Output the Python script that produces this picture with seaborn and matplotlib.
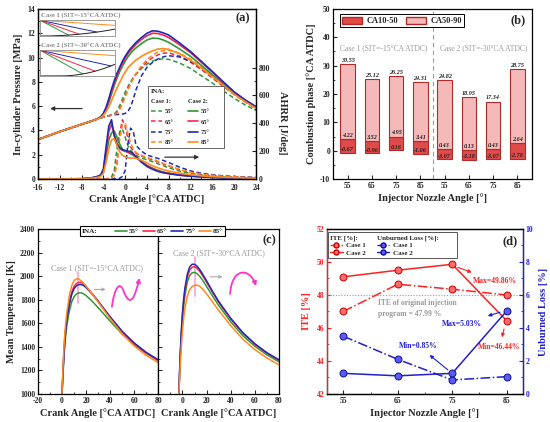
import numpy as np
import seaborn as sns
import matplotlib.pyplot as plt
from matplotlib.lines import Line2D
from matplotlib.patches import Patch, FancyArrowPatch
from matplotlib.path import Path
from matplotlib.ticker import MultipleLocator, FixedLocator

# --- dados ---
ina = [55, 65, 75, 85]
ina_txt = ['55°', '65°', '75°', '85°']
cores = ['#2f9a35', '#ff2345', '#1f2ab5', '#ff8a1e']

# (a) pressão [MPa] e AHRR [J/deg]
ca_a = [-16, -12, -8, -6, -5, -4.5, -4, -3.5, -3, -2.5, -2, -1.5, -1, -0.5, 0, 0.5, 1, 1.5, 2, 3,
        4, 5, 6, 7, 8, 10, 12, 14, 16, 18, 20, 22, 24]
p1_55 = [3.25, 3.9, 4.5, 4.8, 4.95, 5.03, 5.1, 5.16, 5.21, 5.26, 5.35, 5.6, 6.05, 6.6, 7.15, 7.6, 8.0, 8.35, 8.65, 9.1,
         9.45, 9.7, 9.85, 9.9, 9.85, 9.55, 9.1, 8.5, 7.9, 7.25, 6.65, 6.1, 5.65]
p1_65 = [3.25, 3.9, 4.5, 4.8, 4.95, 5.03, 5.1, 5.16, 5.21, 5.26, 5.3, 5.45, 5.8, 6.3, 6.85, 7.4, 7.9, 8.3, 8.65, 9.2,
         9.65, 9.98, 10.22, 10.36, 10.38, 10.12, 9.62, 9.0, 8.32, 7.62, 6.95, 6.35, 5.8]
p1_75 = [3.25, 3.9, 4.5, 4.8, 4.95, 5.03, 5.1, 5.16, 5.21, 5.26, 5.29, 5.31, 5.33, 5.35, 5.4, 5.55, 5.95, 6.6, 7.35, 8.5,
         9.2, 9.6, 9.88, 10.06, 10.15, 10.05, 9.68, 9.1, 8.45, 7.75, 7.07, 6.42, 5.82]
p1_85 = [3.25, 3.9, 4.5, 4.8, 4.95, 5.03, 5.1, 5.16, 5.21, 5.26, 5.3, 5.42, 5.75, 6.2, 6.75, 7.3, 7.82, 8.28, 8.7, 9.32,
         9.83, 10.2, 10.45, 10.58, 10.6, 10.36, 9.87, 9.22, 8.52, 7.82, 7.12, 6.46, 5.86]
p2_55 = [3.25, 3.9, 4.5, 4.8, 4.97, 5.08, 5.3, 5.7, 6.3, 7.0, 7.7, 8.3, 8.85, 9.3, 9.7, 10.05, 10.35, 10.6, 10.8, 11.15,
         11.45, 11.6, 11.58, 11.45, 11.25, 10.7, 10.1, 9.35, 8.6, 7.85, 7.05, 6.42, 5.85]
p2_65 = [3.25, 3.9, 4.5, 4.8, 4.98, 5.1, 5.35, 5.8, 6.45, 7.2, 7.9, 8.5, 9.05, 9.5, 9.95, 10.3, 10.6, 10.85, 11.1, 11.5,
         11.8, 12.0, 11.98, 11.85, 11.65, 11.05, 10.4, 9.6, 8.8, 7.98, 7.15, 6.5, 5.92]
p2_75 = [3.25, 3.9, 4.5, 4.8, 4.98, 5.12, 5.4, 5.9, 6.6, 7.4, 8.1, 8.7, 9.2, 9.7, 10.1, 10.45, 10.75, 11.0, 11.25, 11.65,
         12.0, 12.2, 12.17, 12.03, 11.85, 11.2, 10.5, 9.68, 8.85, 8.0, 7.17, 6.52, 5.96]
p2_85 = [3.25, 3.9, 4.5, 4.8, 4.96, 5.06, 5.25, 5.55, 5.95, 6.45, 7.0, 7.5, 7.95, 8.4, 8.8, 9.15, 9.4, 9.6, 9.8, 10.1,
         10.35, 10.55, 10.7, 10.74, 10.67, 10.32, 9.78, 9.12, 8.42, 7.72, 6.98, 6.38, 5.82]
h1_55 = [0, 0, 0, 0, 0, 0, 0, 2, 5, 15, 60, 220, 340, 360, 300, 240, 205, 185, 170, 150,
         138, 125, 110, 95, 80, 56, 40, 29, 22, 17, 13, 10, 8]
h1_65 = [0, 0, 0, 0, 0, 0, 0, 1, 3, 10, 30, 120, 330, 425, 380, 290, 230, 200, 185, 165,
         150, 138, 124, 108, 93, 66, 47, 34, 25, 19, 15, 12, 9]
h1_75 = [0, 0, 0, 0, 0, 0, 0, 0, 0, 0, 1, 3, 5, 20, 60, 250, 365, 340, 240, 200,
         172, 160, 148, 133, 118, 85, 58, 41, 30, 23, 18, 14, 11]
h1_85 = [0, 0, 0, 0, 0, 0, 0, 1, 3, 8, 25, 100, 280, 390, 400, 330, 260, 215, 190, 170,
         155, 143, 128, 112, 97, 70, 49, 35, 26, 20, 16, 12, 9]
h2_55 = [0, 0, 2, 8, 15, 25, 50, 160, 280, 330, 345, 300, 250, 215, 200, 190, 180, 170, 155, 125,
         98, 78, 62, 50, 42, 30, 22, 17, 13, 10, 8, 6, 5]
h2_65 = [0, 0, 2, 9, 18, 28, 60, 200, 340, 395, 320, 255, 220, 205, 200, 195, 190, 178, 160, 125,
         95, 75, 58, 47, 40, 29, 21, 16, 12, 9, 7, 5, 4]
h2_75 = [0, 0, 2, 10, 20, 30, 70, 230, 380, 425, 310, 250, 225, 210, 205, 200, 195, 180, 160, 120,
         90, 70, 55, 45, 38, 27, 20, 15, 11, 8, 6, 5, 4]
h2_85 = [0, 0, 2, 7, 12, 20, 40, 120, 220, 280, 290, 240, 195, 170, 160, 152, 150, 150, 148, 135,
         115, 95, 80, 67, 57, 42, 31, 23, 17, 13, 10, 8, 6]

# (b) fases de combustão [°CA ATDC]
angulos_b = ['55', '65', '75', '85', '55', '65', '75', '85']
ca10 = [-0.67, -0.96, 0.16, -1.06, -3.07, -3.18, -3.07, -2.78]
ca50 = [4.22, 3.52, 4.95, 3.41, 0.43, 0.13, 0.43, 2.64]
ca90 = [30.55, 25.12, 26.25, 24.31, 24.82, 18.95, 17.34, 28.75]

# (c) temperatura média [K]
ca_c1 = [-1, 0, 1, 2, 3, 4, 6, 8, 10, 12, 14, 16, 18, 20, 25, 30, 40, 50, 60, 70, 80]
t1_55 = [850, 1000, 1200, 1370, 1490, 1580, 1700, 1780, 1825, 1848, 1858, 1858, 1850, 1835, 1788, 1733, 1618, 1508, 1418, 1346, 1287]
t1_65 = [850, 1000, 1235, 1425, 1555, 1645, 1775, 1862, 1913, 1938, 1947, 1945, 1932, 1913, 1853, 1788, 1652, 1527, 1427, 1347, 1281]
t1_75 = [850, 1000, 1220, 1400, 1530, 1622, 1752, 1842, 1893, 1918, 1928, 1928, 1920, 1903, 1849, 1786, 1655, 1532, 1433, 1353, 1290]
t1_85 = [850, 1010, 1270, 1465, 1595, 1692, 1830, 1917, 1962, 1978, 1975, 1960, 1940, 1915, 1850, 1780, 1640, 1510, 1408, 1328, 1265]
ca_c2 = [-5, -3, -2, -1, 0, 1, 2, 4, 6, 8, 10, 12, 14, 16, 18, 20, 25, 30, 40, 50, 60, 70, 80]
t2_55 = [700, 1000, 1260, 1470, 1620, 1740, 1830, 1950, 2005, 2028, 2032, 2022, 2002, 1975, 1945, 1912, 1830, 1752, 1612, 1495, 1405, 1332, 1272]
t2_65 = [700, 1000, 1280, 1500, 1660, 1780, 1870, 1990, 2050, 2075, 2080, 2068, 2045, 2015, 1982, 1948, 1860, 1778, 1636, 1516, 1421, 1346, 1285]
t2_75 = [700, 1000, 1300, 1525, 1685, 1805, 1895, 2015, 2078, 2101, 2100, 2085, 2060, 2030, 1995, 1960, 1870, 1786, 1642, 1521, 1426, 1350, 1290]
t2_85 = [700, 980, 1200, 1390, 1530, 1640, 1720, 1830, 1885, 1912, 1922, 1924, 1915, 1898, 1875, 1850, 1780, 1710, 1580, 1466, 1376, 1306, 1246]

# (d) ITE e perdas por não queimados [%]
ite_c1 = [47.0, 48.65, 48.35, 48.0]
ite_c2 = [49.1, 49.5, 49.86, 46.44]
ul_c1 = [3.5, 2.1, 0.85, 1.05]
ul_c2 = [1.25, 1.1, 1.25, 5.03]
ite_original = 47.99

# --- estilo ---
sns.set_theme(style='ticks')
plt.rcParams['font.family'] = ['Liberation Serif', 'DejaVu Serif']
plt.rcParams.update({
    'font.weight': 'bold', 'axes.labelweight': 'bold', 'font.size': 6,
    'axes.labelsize': 7.5, 'xtick.labelsize': 5.5, 'ytick.labelsize': 5.5,
    'xtick.direction': 'in', 'ytick.direction': 'in',
    'xtick.major.size': 3, 'ytick.major.size': 3, 'xtick.minor.size': 1.6, 'ytick.minor.size': 1.6,
    'xtick.major.width': 0.8, 'ytick.major.width': 0.8, 'xtick.minor.width': 0.6, 'ytick.minor.width': 0.6,
    'xtick.major.pad': 2.5, 'ytick.major.pad': 2,
    'axes.linewidth': 0.9, 'axes.edgecolor': 'black', 'axes.unicode_minus': False,
})

fig = plt.figure(figsize=(5.5, 4.22), dpi=100)
ax_a = fig.add_axes([0.069, 0.5758, 0.3964, 0.4029])
ax_b = fig.add_axes([0.6055, 0.5758, 0.3618, 0.4029])
ax_c1 = fig.add_axes([0.069, 0.0664, 0.2187, 0.391])
ax_c2 = fig.add_axes([0.2878, 0.0664, 0.2195, 0.391])
ax_d = fig.add_axes([0.5945, 0.0664, 0.3564, 0.391])

tracejado = (0, (3, 1.8))


def puxa_esquerda(leg, indices):
    # cabeçalhos da legenda sem símbolo: encosta o texto à esquerda
    fs = leg.prop.get_size_in_points()
    desloc = (leg.handlelength + leg.handletextpad) * fs * fig.dpi / 72
    textos = leg.get_texts()
    for i in indices:
        textos[i].set_x(-desloc)


# ===================== (a) =====================
ax_a2 = ax_a.twinx()
pressoes1 = [p1_55, p1_65, p1_75, p1_85]
pressoes2 = [p2_55, p2_65, p2_75, p2_85]
hrr1 = [h1_55, h1_65, h1_75, h1_85]
hrr2 = [h2_55, h2_65, h2_75, h2_85]
for p, h, cor in zip(pressoes1, hrr1, cores):
    sns.lineplot(x=ca_a, y=p, ax=ax_a, color=cor, linestyle=tracejado, lw=1.1, errorbar=None)
    sns.lineplot(x=ca_a, y=h, ax=ax_a2, color=cor, linestyle=tracejado, lw=1.1, errorbar=None)
for p, h, cor in zip(pressoes2, hrr2, cores):
    sns.lineplot(x=ca_a, y=p, ax=ax_a, color=cor, lw=1.2, errorbar=None)
    sns.lineplot(x=ca_a, y=h, ax=ax_a2, color=cor, lw=1.2, errorbar=None)

ax_a.set_xlim(-16, 24)
ax_a.set_ylim(0, 14)
ax_a.xaxis.set_major_locator(MultipleLocator(4))
ax_a.xaxis.set_minor_locator(MultipleLocator(2))
ax_a.yaxis.set_major_locator(MultipleLocator(2))
ax_a.yaxis.set_minor_locator(MultipleLocator(1))
ax_a.tick_params(axis='x', pad=3.5)
ax_a2.set_ylim(0, 1220)
ax_a2.yaxis.set_major_locator(FixedLocator([0, 200, 400, 600, 800]))
ax_a2.yaxis.set_minor_locator(FixedLocator([100, 300, 500, 700]))
ax_a.set_xlabel('Crank Angle [°CA ATDC]', labelpad=1.5)
ax_a.set_ylabel('In-cylinder Pressure [MPa]', labelpad=3)
ax_a2.set_ylabel('AHRR [J/deg]', rotation=270, va='bottom')
ax_a2.yaxis.set_label_coords(1.1, 0.33)

ax_a.annotate('', xy=(-14.3, 5.8), xytext=(-7.4, 5.8),
              arrowprops=dict(arrowstyle='-|>', color='#333333', lw=0.9, mutation_scale=6))
ax_a.annotate('', xy=(14.1, 1.8), xytext=(6.75, 1.8),
              arrowprops=dict(arrowstyle='-|>', color='#333333', lw=0.9, mutation_scale=6))
ax_a.text(0.939, 0.945, '(a)', transform=ax_a.transAxes, fontsize=9, ha='center', va='center')


# esquemas do bico injetor
def desenha_bico(ax_in, w, h, x0, c):
    xs = np.linspace(0, w, 400)
    pistao = -h + c * np.clip(xs - x0, 0, None) ** 2
    for a, cor in zip(ina, cores):
        inc = np.tan(np.radians((90 - a) * 0.82))
        yl = -inc * xs
        dentro = yl >= pistao
        ax_in.plot(xs[dentro], yl[dentro], color=cor, lw=0.7)
    ax_in.plot(xs, pistao, color='#222222', lw=0.7)
    ax_in.set_xlim(0, w)
    ax_in.set_ylim(-h, 0.3)
    ax_in.set_xticks([])
    ax_in.set_yticks([])
    ax_in.patch.set_alpha(0)
    for s in ax_in.spines.values():
        s.set_color('#8c8c8c')
        s.set_linewidth(0.6)


bico1 = ax_a.inset_axes([0.01, 0.841, 0.344, 0.094])
desenha_bico(bico1, 77, 17, 1.6, 0.00132)
bico2 = ax_a.inset_axes([0.01, 0.606, 0.344, 0.153])
desenha_bico(bico2, 77, 26, 20.3, 0.0037)
ax_a.text(0.012, 0.958, 'Case 1 (SIT=-15°CA ATDC)', transform=ax_a.transAxes, fontsize=4.8,
          color='#8a8a8a', ha='left', va='center')
ax_a.text(0.012, 0.782, 'Case 2 (SIT=-30°CA ATDC)', transform=ax_a.transAxes, fontsize=4.8,
          color='#8a8a8a', ha='left', va='center')

vazio = Line2D([], [], color='none')
h_a = [vazio] + [Line2D([], [], color=c, lw=1.1, linestyle=tracejado) for c in cores] + \
      [vazio] + [Line2D([], [], color=c, lw=1.2) for c in cores]
l_a = ['Case 1:'] + ina_txt + ['Case 2:'] + ina_txt
leg_a = ax_a2.legend(h_a, l_a, ncol=2, title='INA:', alignment='left', loc='upper left',
                     bbox_to_anchor=(0.505, 0.547), borderaxespad=0, fontsize=4.6, title_fontsize=4.8,
                     handlelength=1.7, handletextpad=0.4, labelspacing=0.75, columnspacing=0.5,
                     frameon=True, fancybox=False, edgecolor='#666666', framealpha=1, borderpad=0.45)
leg_a.get_frame().set_linewidth(0.7)
leg_a.get_title().set_fontweight('bold')
puxa_esquerda(leg_a, [0, 5])

# ===================== (b) =====================
escuro = '#e04a4a'
claro = '#f5b9b9'
borda = '#b02a2a'
xb = np.arange(len(ca90))
base = np.array(ca10)
meio = np.array(ca50)
topo = np.array(ca90)
ax_b.bar(xb, meio - base, bottom=base, width=0.6, color=escuro, edgecolor=borda, lw=0.8, zorder=2)
ax_b.bar(xb, topo - meio, bottom=meio, width=0.6, color=claro, edgecolor=borda, lw=0.8, zorder=2)
for i in xb:
    for v, dy in [(ca90[i], 1.3), (ca50[i], 1.3), (ca10[i], 1.0)]:
        ax_b.text(i, v + dy, f'{v:.2f}', ha='center', va='center', fontsize=4.4,
                  style='italic', weight='bold', color='#222222', zorder=3)
ax_b.axvline(3.5, color='#9a9a9a', lw=0.8, ls=(0, (4, 3)), zorder=1)
ax_b.set_xlim(-0.6, 7.6)
ax_b.set_ylim(-10, 50)
ax_b.set_xticks(xb)
ax_b.set_xticklabels(angulos_b)
ax_b.yaxis.set_major_locator(MultipleLocator(10))
ax_b.yaxis.set_minor_locator(MultipleLocator(5))
ax_b.set_xlabel('Injector Nozzle Angle [°]', labelpad=2)
ax_b.set_ylabel('Combustion phase [°CA ATDC]', labelpad=3)
ax_b.text(1.47, 36.1, 'Case 1 (SIT=-15°CA ATDC)', fontsize=5.5, color='#9a9a9a', ha='center',
          va='center', weight='normal')
ax_b.text(5.59, 36.1, 'Case 2 (SIT=-30°CA ATDC)', fontsize=5.5, color='#9a9a9a', ha='center',
          va='center', weight='normal')
ax_b.text(0.931, 0.931, '(b)', transform=ax_b.transAxes, fontsize=9, ha='center', va='center')
leg_b = ax_b.legend([Patch(facecolor=escuro, edgecolor=borda), Patch(facecolor=claro, edgecolor=borda)],
                    ['CA10-50', 'CA50-90'], ncol=2, loc='upper left', bbox_to_anchor=(0.035, 0.968),
                    borderaxespad=0, fontsize=6, handlelength=2.4, handleheight=1.0, columnspacing=1.0,
                    handletextpad=0.5, frameon=True, fancybox=False, edgecolor='black', framealpha=1,
                    borderpad=0.25)
leg_b.get_frame().set_linewidth(0.7)

# ===================== (c) =====================
temps1 = [t1_55, t1_65, t1_75, t1_85]
temps2 = [t2_55, t2_65, t2_75, t2_85]
for t, cor in zip(temps1, cores):
    sns.lineplot(x=ca_c1, y=t, ax=ax_c1, color=cor, lw=1.1, errorbar=None)
for t, cor in zip(temps2, cores):
    sns.lineplot(x=ca_c2, y=t, ax=ax_c2, color=cor, lw=1.1, errorbar=None)

for ax in (ax_c1, ax_c2):
    ax.set_xlim(-20, 80)
    ax.set_ylim(1000, 2400)
    ax.xaxis.set_minor_locator(MultipleLocator(10))
    ax.yaxis.set_major_locator(MultipleLocator(200))
    ax.yaxis.set_minor_locator(MultipleLocator(100))
    ax.set_xlabel('Crank Angle [°CA ATDC]', labelpad=2)
ax_c1.set_xticks([-20, 0, 20, 40, 60, 80])
ax_c2.set_xticks([0, 20, 40, 60, 80])
ax_c2.tick_params(axis='y', labelleft=False)
ax_c1.set_ylabel('Mean Temperature [K]', labelpad=3)

# linha rosa na posição dos picos
for ax, ca, temps in [(ax_c1, ca_c1, temps1), (ax_c2, ca_c2, temps2)]:
    picos_x = [ca[int(np.argmax(t))] for t in temps]
    picos_y = [max(t) for t in temps]
    ax.plot([np.mean(picos_x)] * 2, [min(picos_y) - 90, max(picos_y) + 60], color='#f7a6dc', lw=1.4,
            zorder=1, alpha=0.9)

ax_c1.text(28.9, 2065, 'Case 1 (SIT=-15°CA ATDC)', fontsize=5.8, color='#9a9a9a', ha='center',
           va='center', weight='normal')
ax_c2.text(30.4, 2192, 'Case 2 (SIT=-30°CA ATDC)', fontsize=5.8, color='#9a9a9a', ha='center',
           va='center', weight='normal')
ax_c1.annotate('', xy=(38.6, 1887), xytext=(24.7, 1887),
               arrowprops=dict(arrowstyle='->', color='#aaaaaa', lw=0.8, mutation_scale=5))
ax_c2.annotate('', xy=(35.6, 1994), xytext=(20.6, 1994),
               arrowprops=dict(arrowstyle='->', color='#aaaaaa', lw=0.8, mutation_scale=5))

rosa = '#ff33cc'
caminho1 = Path([(41.5, 1740), (43.5, 1900), (48, 1960), (51, 1880), (53, 1820), (56, 1770), (59, 1815),
                 (61, 1850), (63, 1920), (64.5, 1985)],
                [Path.MOVETO] + [Path.CURVE4] * 9)
ax_c1.add_patch(FancyArrowPatch(path=caminho1, arrowstyle='-|>', mutation_scale=6, color=rosa, lw=1.3))
caminho2 = Path([(39.5, 1850), (41, 2080), (56, 2070), (61, 1915)],
                [Path.MOVETO, Path.CURVE4, Path.CURVE4, Path.CURVE4])
ax_c2.add_patch(FancyArrowPatch(path=caminho2, arrowstyle='-|>', mutation_scale=6, color=rosa, lw=1.3))
ax_c2.text(0.92, 0.933, '(c)', transform=ax_c2.transAxes, fontsize=9, ha='center', va='center')

h_c = [vazio] + [Line2D([], [], color=c, lw=1.2) for c in cores]
leg_c = fig.legend(h_c, ['INA:'] + ina_txt, ncol=5, loc='center', bbox_to_anchor=(0.277, 0.4526),
                   fontsize=5.2, handlelength=1.6, handletextpad=0.3, columnspacing=0.6, borderpad=0.25,
                   frameon=True, fancybox=False, edgecolor='black', framealpha=1)
leg_c.get_frame().set_linewidth(0.8)
puxa_esquerda(leg_c, [0])

# ===================== (d) =====================
vermelho = '#ff2020'
azul = '#2020d0'
ax_d2 = ax_d.twinx()
estilo_ponto = dict(marker='o', markersize=5, markeredgewidth=0.7, errorbar=None)
sns.lineplot(x=ina, y=ite_c1, ax=ax_d, color=vermelho, linestyle='-.', lw=1.1,
             markerfacecolor='#ff6a6a', markeredgecolor='#c80000', **estilo_ponto)
sns.lineplot(x=ina, y=ite_c2, ax=ax_d, color=vermelho, lw=1.1,
             markerfacecolor='#ff6a6a', markeredgecolor='#c80000', **estilo_ponto)
sns.lineplot(x=ina, y=ul_c1, ax=ax_d2, color=azul, linestyle='-.', lw=1.1,
             markerfacecolor='#5a5aff', markeredgecolor='#10108a', **estilo_ponto)
sns.lineplot(x=ina, y=ul_c2, ax=ax_d2, color=azul, lw=1.1,
             markerfacecolor='#5a5aff', markeredgecolor='#10108a', **estilo_ponto)
ax_d.axhline(ite_original, color='#9a9a9a', lw=0.8, ls=(0, (1, 1.5)), zorder=1)

ax_d.set_xlim(52, 88)
ax_d.set_xticks(ina)
ax_d.xaxis.set_minor_locator(MultipleLocator(5))
ax_d.set_ylim(42, 52)
ax_d.yaxis.set_major_locator(MultipleLocator(2))
ax_d.yaxis.set_minor_locator(MultipleLocator(1))
ax_d2.set_ylim(0, 10)
ax_d2.yaxis.set_major_locator(MultipleLocator(2))
ax_d2.yaxis.set_minor_locator(MultipleLocator(1))
ax_d.set_xlabel('Injector Nozzle Angle [°]', labelpad=2)
ax_d.set_ylabel('ITE [%]', color=vermelho, labelpad=4)
ax_d2.set_ylabel('Unburned Loss [%]', color=azul, rotation=90, labelpad=4)
ax_d.tick_params(axis='y', which='both', colors=vermelho)
ax_d2.tick_params(axis='y', which='both', colors=azul)
ax_d2.spines['left'].set_color(vermelho)
ax_d2.spines['right'].set_color(azul)

ax_d.text(61.45, 47.2, f'ITE of original injection\nprogram = {ite_original:.2f} %', fontsize=5.5,
          color='#9a9a9a', ha='left', va='center', linespacing=1.5)
i_max = int(np.argmax(ite_c2))
i_min = int(np.argmin(ite_c2))
ax_d.annotate(f'Max={ite_c2[i_max]:.2f}%', xy=(ina[i_max] + 0.3, ite_c2[i_max] - 0.1), xytext=(82.8, 48.87),
              fontsize=5.5, color=vermelho, ha='center', va='center',
              arrowprops=dict(arrowstyle='<|-', color=vermelho, lw=0.8, mutation_scale=5, shrinkA=2, shrinkB=3))
ax_d.annotate(f'Min={ite_c2[i_min]:.2f}%', xy=(ina[i_min] - 0.3, ite_c2[i_min] - 0.25), xytext=(83.7, 44.83),
              fontsize=5.5, color=vermelho, ha='center', va='center',
              arrowprops=dict(arrowstyle='<|-', color=vermelho, lw=0.8, mutation_scale=5, shrinkA=2, shrinkB=3))
j_max = int(np.argmax(ul_c2))
j_min = int(np.argmin(ul_c1))
ax_d2.annotate(f'Max={ul_c2[j_max]:.2f}%', xy=(ina[j_max] - 0.5, ul_c2[j_max]), xytext=(76.75, 4.24),
               fontsize=5.5, color=azul, ha='center', va='center',
               arrowprops=dict(arrowstyle='<|-', color=azul, lw=0.8, mutation_scale=5, shrinkA=2, shrinkB=3))
ax_d2.annotate(f'Min={ul_c1[j_min]:.2f}%', xy=(ina[j_min] - 0.2, ul_c1[j_min] + 0.45), xytext=(68.8, 2.91),
               fontsize=5.5, color=azul, ha='center', va='center',
               arrowprops=dict(arrowstyle='<|-', color=azul, lw=0.8, mutation_scale=5, shrinkA=2, shrinkB=3))
ax_d.text(0.934, 0.923, '(d)', transform=ax_d.transAxes, fontsize=9, ha='center', va='center')

ponto_v = dict(marker='o', markersize=3.6, markerfacecolor='#ff6a6a', markeredgecolor='#c80000', color=vermelho, lw=1.0)
ponto_a = dict(marker='o', markersize=3.6, markerfacecolor='#5a5aff', markeredgecolor='#10108a', color=azul, lw=1.0)
h_d = [vazio, Line2D([], [], linestyle='-.', **ponto_v), Line2D([], [], **ponto_v),
       vazio, Line2D([], [], linestyle='-.', **ponto_a), Line2D([], [], **ponto_a)]
l_d = ['ITE [%]:', 'Case 1', 'Case 2', 'Unburned Loss [%]:', 'Case 1', 'Case 2']
leg_d = ax_d2.legend(h_d, l_d, ncol=2, loc='upper left', bbox_to_anchor=(0.005, 0.98), borderaxespad=0,
                     fontsize=5.0, handlelength=1.8, handletextpad=0.5, labelspacing=0.25, columnspacing=0.4,
                     frameon=True, fancybox=False, edgecolor='#555555', framealpha=1, borderpad=0.3)
leg_d.get_frame().set_linewidth(0.7)
puxa_esquerda(leg_d, [0, 3])

fig.savefig('out.png', dpi=100)
